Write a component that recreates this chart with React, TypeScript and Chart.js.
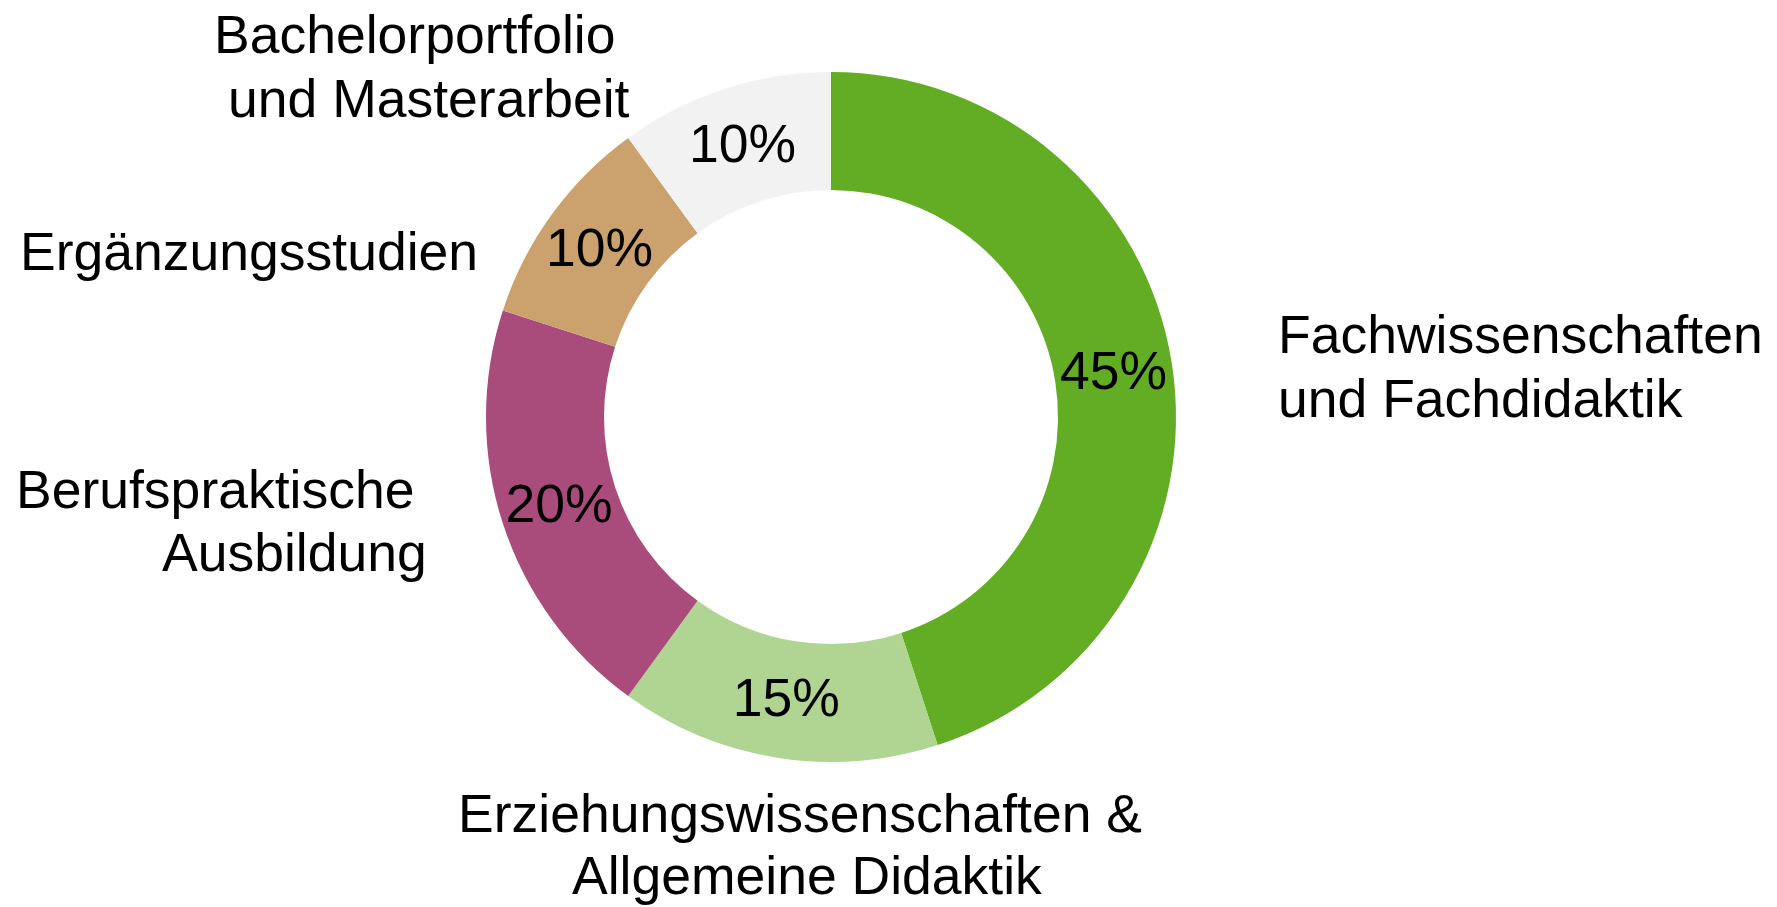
import React, { useEffect, useRef } from "react";
import { Chart, registerables } from "chart.js";

Chart.register(...registerables);

const categories: string[][] = [
  ["Fachwissenschaften", "und Fachdidaktik"],
  ["Erziehungswissenschaften &", "Allgemeine Didaktik"],
  ["Berufspraktische", "Ausbildung"],
  ["Ergänzungsstudien"],
  ["Bachelorportfolio", "und Masterarbeit"],
];
const shares: number[] = [45, 15, 20, 10, 10];
const sliceColors: string[] = ["#62AD24", "#B0D492", "#A94C7C", "#CBA26E", "#F2F2F2"];

// line placement of outer labels relative to the doughnut centre (left x, baseline y)
const labelLayout: { dx: number; dy: number }[][] = [
  [{ dx: 447, dy: -64 }, { dx: 447, dy: 0 }],
  [{ dx: -373, dy: 415 }, { dx: -259, dy: 477 }],
  [{ dx: -815, dy: 91 }, { dx: -669, dy: 154 }],
  [{ dx: -811, dy: -147 }],
  [{ dx: -617, dy: -364 }, { dx: -603, dy: -300 }],
];

const FONT = '53.5px "Liberation Sans", Arial, sans-serif';

const labelPlugin = {
  id: "donutLabels",
  afterDatasetsDraw(chart: any) {
    const ctx = chart.ctx;
    const meta = chart.getDatasetMeta(0);
    const data = chart.data.datasets[0].data as number[];
    const total = data.reduce((a, b) => a + b, 0);
    ctx.save();
    ctx.font = FONT;
    ctx.fillStyle = "#000000";
    meta.data.forEach((arc: any, i: number) => {
      const p = arc.tooltipPosition();
      ctx.textAlign = "center";
      ctx.textBaseline = "middle";
      ctx.fillText(Math.round((data[i] / total) * 100) + "%", p.x, p.y + 2);
      const cx = arc.x;
      const cy = arc.y;
      const lines = (chart.data.labels as string[][])[i];
      ctx.textAlign = "left";
      ctx.textBaseline = "alphabetic";
      lines.forEach((line, j) => {
        const pos = labelLayout[i][j];
        ctx.fillText(line, cx + pos.dx, cy + pos.dy);
      });
    });
    ctx.restore();
  },
};

export default function App() {
  const canvasRef = useRef<HTMLCanvasElement | null>(null);

  useEffect(() => {
    if (!canvasRef.current) return;
    const chart = new Chart(canvasRef.current, {
      type: "doughnut",
      data: {
        labels: categories as any,
        datasets: [
          {
            data: shares,
            backgroundColor: sliceColors,
            borderWidth: 0,
            hoverOffset: 0,
          },
        ],
      },
      options: {
        animation: false,
        responsive: false,
        maintainAspectRatio: false,
        cutout: "65.8%",
        rotation: 0,
        layout: { padding: { left: 486, right: 601, top: 72, bottom: 145 } },
        plugins: {
          legend: { display: false },
          tooltip: { enabled: false },
        },
        events: [],
      },
      plugins: [labelPlugin],
    });
    return () => chart.destroy();
  }, []);

  return (
    <div style={{ position: "fixed", left: 0, top: 0, width: 1777, height: 907, background: "#ffffff" }}>
      <canvas ref={canvasRef} width={1777} height={907} style={{ display: "block", width: 1777, height: 907 }} />
    </div>
  );
}
